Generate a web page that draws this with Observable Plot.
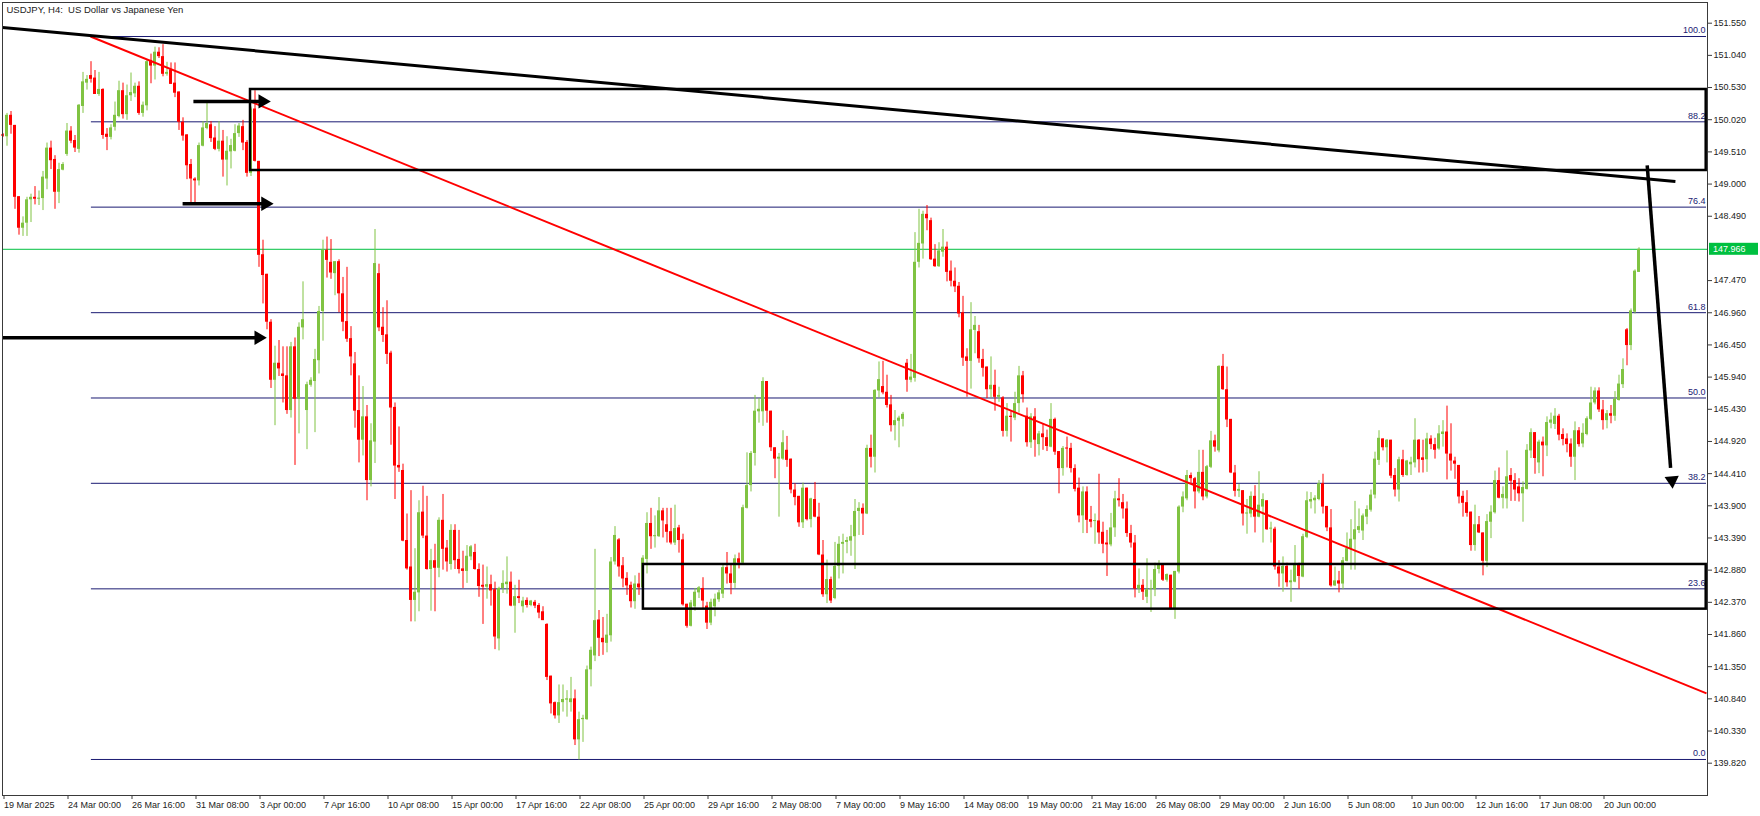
<!DOCTYPE html>
<html><head><meta charset="utf-8">
<script src="https://cdn.jsdelivr.net/npm/d3@7"></script>
<script src="https://cdn.jsdelivr.net/npm/@observablehq/plot@0.6"></script>
<style>html,body{margin:0;padding:0;background:#fff;overflow:hidden}svg{display:block}</style>
</head><body><div id="chart"></div>
<script>
const title = "USDJPY, H4:  US Dollar vs Japanese Yen";
const opens = [
149.78,149.75,150.09,149.93,148.80,148.30,148.38,148.75,148.79,148.76,
148.77,149.08,149.57,149.39,148.87,149.22,149.47,149.84,149.69,149.55,
150.23,150.60,150.72,150.68,150.42,150.50,149.79,149.74,149.90,150.07,
150.48,150.10,150.40,150.43,150.55,150.12,150.24,150.96,150.87,151.09,
151.02,150.74,150.81,150.60,150.46,149.98,149.78,149.31,149.08,149.05,
149.60,149.88,149.94,149.73,149.55,149.68,149.38,149.51,149.52,149.80,
149.91,149.66,149.17,150.19,149.36,147.88,147.57,146.81,145.89,146.16,
145.99,145.96,145.41,146.42,145.59,146.72,145.41,145.81,145.87,146.20,
146.98,147.95,147.76,147.58,147.77,147.26,146.82,146.55,146.15,145.41,
144.94,145.31,144.30,144.91,147.58,146.73,146.61,146.32,145.46,144.54,
144.46,143.35,142.93,142.40,142.52,143.80,143.42,142.89,143.03,142.91,
143.67,143.23,142.97,143.51,143.05,142.90,142.86,143.09,143.16,142.89,
142.64,142.61,142.65,142.57,141.79,142.59,142.65,142.69,142.31,142.46,
142.30,142.40,142.32,142.37,142.32,142.22,142.02,141.20,140.78,140.57,
140.78,140.82,140.78,140.84,140.19,140.51,140.51,141.30,141.52,142.09,
141.80,141.72,141.84,143.01,143.36,142.95,142.75,142.64,142.38,142.66,
142.60,143.05,143.62,143.41,143.41,143.82,143.60,143.49,143.31,143.55,
143.36,142.34,141.99,142.30,142.52,142.59,142.31,142.04,142.30,142.41,
142.50,142.92,142.82,142.67,143.06,142.99,143.86,144.22,144.73,145.39,
145.39,145.87,145.40,144.82,144.64,144.64,144.78,144.64,144.15,144.05,
143.63,144.18,143.68,144.00,143.72,143.12,142.49,142.73,142.43,142.94,
143.29,143.32,143.34,143.41,143.81,143.86,143.77,144.81,144.67,145.72,
145.79,145.70,145.50,145.17,145.24,145.27,146.16,145.89,145.92,147.76,
148.05,148.52,148.42,147.81,147.69,147.92,148.00,147.62,147.46,147.38,
146.96,146.26,146.19,146.68,146.66,146.22,146.10,145.74,145.81,145.62,
145.61,145.08,145.32,145.29,145.52,145.96,145.32,144.90,145.31,144.87,
145.04,144.98,144.83,145.27,144.76,144.49,144.81,144.81,144.49,144.18,
143.74,144.12,143.68,143.65,143.66,143.48,143.31,143.28,143.55,144.01,
143.95,143.85,143.46,143.31,142.58,142.64,142.45,142.57,142.57,142.89,
142.97,142.72,142.80,142.27,142.85,143.88,144.01,144.38,144.33,144.12,
144.43,144.04,144.51,144.93,144.77,146.11,145.74,145.27,144.42,144.13,
144.14,143.77,143.77,144.05,143.72,143.88,143.98,143.53,143.53,142.93,
142.82,142.94,142.68,142.69,142.97,142.77,143.40,143.96,143.98,144.00,
144.25,143.89,143.55,142.63,142.71,142.66,143.02,143.21,143.36,143.51,
143.50,143.72,143.83,144.07,144.62,144.96,144.82,144.94,144.38,144.15,
144.63,144.38,144.55,144.58,144.94,144.66,144.63,144.96,144.87,144.80,
145.03,145.07,144.72,144.61,144.54,144.05,143.95,143.80,143.27,143.60,
143.47,143.02,143.64,143.79,144.30,144.02,144.01,144.38,144.30,144.20,
144.09,144.16,144.77,145.06,144.58,144.91,144.85,145.21,145.19,145.32,
145.03,144.96,144.88,144.67,145.09,144.88,145.03,145.27,145.53,145.72,
145.42,145.25,145.36,145.32,145.57,145.82,146.69,146.44,146.97,147.60];
const highs = [
149.80,150.12,150.15,149.93,148.80,148.48,148.79,148.84,148.96,148.89,
149.20,149.65,149.68,149.45,149.33,149.34,149.96,149.91,149.77,150.26,
150.77,150.72,150.94,150.80,150.77,150.51,149.88,149.94,150.30,150.63,
150.60,150.57,150.76,150.60,150.62,150.30,150.96,151.06,151.17,151.16,
151.21,150.93,150.92,150.92,150.46,150.05,149.78,149.39,149.10,149.65,
149.99,150.30,149.99,149.91,149.99,149.85,149.75,149.71,149.94,149.96,
150.01,149.69,150.22,150.48,149.36,148.11,147.57,146.85,146.43,146.52,
146.42,146.42,146.49,146.56,146.80,147.45,145.86,145.93,146.38,147.06,
148.11,148.16,148.12,147.77,147.80,147.52,147.68,146.74,146.33,145.96,
145.79,145.49,145.20,148.28,147.73,147.04,147.15,146.35,145.53,145.15,
144.56,143.77,144.14,143.22,143.98,144.21,144.05,143.21,143.29,143.71,
144.08,143.35,143.60,143.60,143.51,143.18,143.27,143.27,143.29,142.98,
142.96,142.93,142.80,142.69,142.61,142.87,143.09,142.85,142.64,142.72,
142.45,142.44,142.40,142.40,142.35,142.30,142.03,141.20,140.79,141.06,
141.06,140.97,141.18,140.98,140.63,140.58,141.36,141.66,143.21,142.24,
142.13,142.18,143.08,143.57,143.38,143.08,142.84,142.69,142.79,142.83,
143.11,143.79,143.86,143.74,144.03,143.86,143.86,143.86,143.91,143.59,
143.45,142.34,142.40,142.59,142.62,142.76,142.37,142.42,142.50,142.56,
142.96,143.16,142.96,143.12,143.15,143.91,144.74,144.76,145.65,145.60,
145.93,145.87,145.40,144.82,144.73,145.09,145.00,144.64,144.25,144.05,
144.26,144.18,144.02,144.27,143.94,143.35,143.04,142.77,143.32,143.41,
143.45,143.40,143.59,144.00,143.95,143.93,144.86,145.02,145.74,146.18,
146.19,145.97,145.65,145.41,145.32,145.38,146.22,146.30,148.23,148.60,
148.57,148.66,148.46,148.04,148.07,148.28,148.08,147.78,147.67,147.44,
147.22,146.39,147.12,146.90,146.76,146.38,146.10,146.26,146.05,145.78,
145.63,145.52,145.41,145.70,146.11,146.03,145.45,145.36,145.44,145.08,
145.20,145.10,145.52,145.29,144.76,144.84,144.99,144.89,144.55,144.34,
144.20,144.20,143.89,143.77,144.40,143.64,143.51,143.78,144.13,144.33,
144.08,143.96,143.59,143.43,142.90,142.73,143.06,142.72,142.99,143.03,
142.97,142.82,142.80,142.86,143.90,144.12,144.46,144.42,144.35,144.78,
144.78,144.54,145.08,145.02,146.12,146.30,146.10,145.27,144.54,144.24,
144.14,144.00,144.12,144.22,144.44,144.09,143.98,143.64,143.56,143.03,
143.09,142.99,142.88,143.27,142.99,143.45,144.12,144.11,144.06,144.30,
144.40,143.89,143.84,142.93,142.86,143.08,143.47,143.68,143.97,143.85,
143.77,143.90,144.15,144.75,145.09,144.96,144.95,144.94,144.49,144.67,
144.78,144.62,144.67,145.28,144.95,144.94,145.05,145.01,144.97,145.17,
145.25,145.48,145.20,144.67,144.54,144.13,144.14,143.80,143.91,143.73,
143.47,143.76,143.90,144.45,144.50,144.20,144.77,144.49,144.41,144.33,
144.28,144.87,145.12,145.06,144.94,144.99,145.31,145.37,145.44,145.35,
145.12,145.04,144.96,145.23,145.14,145.20,145.31,145.78,145.77,145.77,
145.57,145.41,145.49,145.71,145.97,146.23,146.71,147.02,147.64,147.99];
const lows = [
149.74,149.60,149.79,148.60,148.19,148.17,148.17,148.39,148.67,148.66,
148.58,148.91,149.23,148.60,148.69,149.21,149.44,149.64,149.50,149.49,
150.12,150.49,150.60,150.42,150.39,149.71,149.53,149.70,149.84,150.05,
150.03,150.01,150.31,150.37,150.09,150.06,150.16,150.59,150.65,150.99,
150.70,150.71,150.58,150.37,149.85,149.68,149.07,148.69,148.69,148.97,
149.59,149.86,149.66,149.53,149.51,149.11,148.97,149.24,149.51,149.74,
149.53,149.11,149.12,149.35,147.68,147.10,146.69,145.76,145.17,145.95,
145.53,145.35,145.29,144.54,145.04,146.53,144.79,145.78,145.06,145.99,
146.51,147.51,147.49,147.23,146.96,146.66,146.49,145.96,145.13,144.58,
144.69,143.98,144.20,144.57,146.66,146.49,146.14,144.86,144.00,144.43,
143.33,142.88,142.06,142.06,142.22,143.38,142.88,142.23,142.22,142.76,
142.88,142.85,142.88,142.89,142.82,142.59,142.67,143.03,142.88,142.45,
142.02,142.42,142.31,141.62,141.60,142.51,142.50,142.30,141.88,142.35,
142.20,142.28,142.30,142.27,142.11,142.08,141.13,140.60,140.52,140.45,
140.63,140.55,140.63,140.10,139.87,140.15,140.50,141.03,141.43,141.51,
141.53,141.57,141.74,142.96,142.77,142.60,142.48,142.28,142.26,142.48,
142.49,142.82,143.21,143.23,143.40,143.39,143.31,143.28,143.27,143.15,
142.31,141.96,141.98,142.23,142.43,142.27,141.94,142.00,142.14,142.37,
142.43,142.66,142.49,142.59,142.90,142.96,143.85,144.12,144.53,145.21,
145.16,145.21,144.76,144.33,143.72,144.62,144.51,144.09,143.90,143.56,
143.54,143.66,143.55,143.71,143.11,142.45,142.35,142.35,142.41,142.74,
142.82,143.14,143.10,142.89,143.43,143.43,143.76,144.50,144.42,145.61,
145.66,145.45,145.07,144.93,144.82,145.15,145.70,145.85,145.86,147.67,
147.81,148.26,147.79,147.68,147.68,147.84,147.45,147.37,147.28,146.88,
146.11,145.62,145.75,146.31,146.16,145.94,145.60,145.61,145.40,145.54,
144.99,144.99,144.91,145.25,145.37,145.53,144.83,144.81,144.67,144.69,
144.78,144.76,144.82,144.70,144.09,144.37,144.50,144.42,144.12,143.63,
143.46,143.46,143.55,143.29,143.29,143.14,142.78,143.25,143.40,143.88,
143.69,143.40,143.23,142.44,142.51,142.40,142.35,142.21,142.46,142.82,
142.70,142.69,142.25,142.10,142.82,143.79,143.98,144.25,143.85,144.09,
143.98,144.01,144.49,144.75,144.74,145.73,145.14,144.41,144.04,144.03,
143.58,143.45,143.71,143.47,143.71,143.31,143.51,143.31,142.88,142.61,
142.53,142.61,142.37,142.68,142.58,142.76,143.38,143.85,143.77,143.98,
143.77,143.49,142.61,142.62,142.52,142.57,143.01,142.88,142.88,143.46,
143.35,143.60,143.80,144.01,144.54,144.77,144.58,144.33,144.04,143.96,
144.35,144.37,144.38,144.50,144.42,144.42,144.43,144.79,144.64,144.78,
144.83,144.31,144.45,144.32,143.93,143.72,143.72,143.18,143.18,143.46,
142.79,142.92,143.38,143.77,144.01,143.85,143.85,143.97,143.97,143.96,
143.64,144.15,144.65,144.40,144.41,144.36,144.68,145.12,145.11,144.93,
144.85,144.74,144.51,144.30,144.83,144.82,145.01,145.25,145.50,145.38,
145.10,145.12,145.20,145.24,145.56,145.76,146.12,146.36,146.94,147.60];
const closes = [
149.76,150.09,149.93,148.79,148.30,148.38,148.75,148.79,148.76,148.77,
149.11,149.57,149.37,148.87,149.23,149.31,149.84,149.68,149.57,150.25,
150.62,150.66,150.66,150.42,150.50,149.77,149.74,149.89,150.09,150.48,
150.10,150.40,150.45,150.55,150.12,150.25,150.94,150.87,151.09,151.02,
150.74,150.77,150.58,150.44,149.98,149.76,149.29,149.08,149.05,149.61,
149.89,149.96,149.72,149.55,149.68,149.38,149.52,149.61,149.80,149.92,
149.65,149.17,150.19,149.36,147.87,147.55,146.81,145.89,146.16,146.07,
145.95,145.41,146.42,145.59,146.73,146.85,145.82,145.89,146.22,146.98,
147.95,147.79,147.59,147.77,147.26,146.81,146.54,146.26,145.40,144.94,
145.31,144.30,144.93,147.74,146.72,146.60,146.30,145.45,144.53,144.50,
143.34,142.90,142.40,142.53,143.79,143.42,142.89,143.03,142.91,143.67,
143.21,143.01,143.51,143.03,142.89,142.86,143.10,143.25,142.89,142.62,
142.61,142.65,142.55,141.82,142.59,142.67,142.69,142.31,142.46,142.43,
142.39,142.32,142.39,142.31,142.20,142.08,141.18,140.76,140.57,140.78,
140.83,140.84,140.84,140.19,140.51,140.53,141.30,141.61,142.08,141.80,
141.73,141.85,143.01,143.43,142.93,142.74,142.63,142.38,142.66,142.60,
143.07,143.62,143.41,143.41,143.82,143.66,143.48,143.31,143.54,143.35,
142.33,141.99,142.36,142.53,142.60,142.39,142.04,142.37,142.42,142.52,
142.92,142.82,142.67,143.06,142.99,143.87,144.22,144.73,145.40,145.43,
145.87,145.40,144.82,144.64,144.67,144.90,144.62,144.15,144.03,143.63,
144.18,143.68,144.01,143.72,143.12,142.49,142.73,142.39,142.94,143.29,
143.32,143.35,143.41,143.81,143.86,143.77,144.81,144.67,145.73,145.90,
145.69,145.49,145.17,145.25,145.29,145.35,145.89,145.94,147.76,148.06,
148.52,148.45,147.80,147.69,147.94,148.00,147.60,147.46,147.37,146.94,
146.24,146.19,146.69,146.76,146.23,146.08,145.74,145.81,145.62,145.65,
145.08,145.32,145.30,145.52,145.96,145.66,144.90,145.31,144.94,145.04,
144.98,144.84,145.27,144.75,144.49,144.81,144.80,144.49,144.16,143.74,
144.12,143.67,143.64,143.66,143.47,143.29,143.28,143.55,144.01,143.98,
143.85,143.46,143.31,142.58,142.64,142.53,142.57,142.57,142.89,142.97,
142.72,142.81,142.27,142.86,143.88,144.04,144.38,144.33,144.12,144.43,
144.04,144.52,144.93,144.83,146.11,145.74,145.26,144.42,144.13,144.16,
143.77,143.78,144.05,143.72,143.91,144.00,143.52,143.53,142.93,142.82,
142.94,142.68,142.71,142.97,142.78,143.41,143.98,144.00,144.02,144.25,
143.88,143.55,142.63,142.71,142.66,143.03,143.22,143.37,143.52,143.57,
143.74,143.84,144.07,144.64,144.97,144.82,144.94,144.37,144.15,144.63,
144.38,144.61,144.59,144.94,144.63,144.62,144.96,144.87,144.78,145.04,
145.07,144.72,144.61,144.56,144.04,143.94,143.78,143.27,143.60,143.47,
143.02,143.65,143.80,144.30,144.02,144.08,144.36,144.29,144.15,144.09,
144.19,144.78,145.06,144.65,144.91,144.85,145.22,145.26,145.32,145.02,
144.95,144.87,144.67,145.09,144.87,145.05,145.28,145.53,145.72,145.42,
145.25,145.36,145.32,145.59,145.83,146.06,146.44,146.99,147.62,147.966];

const xTickBars = [0,16,32,48,64,80,96,112,128,144,160,176,192,208,224,240,256,272,288,304,320,336,352,368,384,400];
const xTickLabels = ["19 Mar 2025","24 Mar 00:00","26 Mar 16:00","31 Mar 08:00","3 Apr 00:00","7 Apr 16:00","10 Apr 08:00","15 Apr 00:00","17 Apr 16:00","22 Apr 08:00","25 Apr 00:00","29 Apr 16:00","2 May 08:00","7 May 00:00","9 May 16:00","14 May 08:00","19 May 00:00","21 May 16:00","26 May 08:00","29 May 00:00","2 Jun 16:00","5 Jun 08:00","10 Jun 00:00","12 Jun 16:00","17 Jun 08:00","20 Jun 00:00"];
const yTickLabels = ["139.820","140.330","140.840","141.350","141.860","142.370","142.880","143.390","143.900","144.410","144.920","145.430","145.940","146.450","146.960","147.470","148.490","149.000","149.510","150.020","150.530","151.040","151.550"];

const fibLow = 139.879, fibHigh = 151.339, fibStartBar = 22.1;
const fibLevels = [0, 23.6, 38.2, 50, 61.8, 76.4, 88.2, 100];
const fibLabels = ["0.0","23.6","38.2","50.0","61.8","76.4","88.2","100.0"];
const lastPrice = 147.966;
const lastPriceLabel = "147.966";
const rightBar = 425.875;

const trendBlack = [{x1:-0.125, y1:151.482, x2:418.1, y2:149.041}];
const trendRed = [{x1:21.875, y1:151.339, x2:425.875, y2:140.926}];
const boxes = [
  {x1:61.875, x2:425.8, top:150.499, bottom:149.215},
  {x1:160.1, x2:425.8, top:142.970, bottom:142.262}
];
const hArrows = [
  {x1:47.6, tip:66.9, y:150.309},
  {x1:44.9, tip:67.6, y:148.688},
  {x1:-0.125, tip:65.9, y:146.564}
];
const dArrows = [{x1:411.05, y1:149.295, tipX:417.4, tipY:144.175, shaftX:416.9, shaftY:144.5}];

const UP = "#80c342", DOWN = "#ff0000", NAVY = "#1a1a72", PRICE_GREEN = "#00c040";

const bars = closes.map((c, i) => ({i, o: opens[i], h: highs[i], l: lows[i], c, up: c >= opens[i]}));
const fib = fibLevels.map((lv, k) => ({price: fibLow + lv / 100 * (fibHigh - fibLow), label: fibLabels[k]}));
const yTicks = yTickLabels.map(Number);

const chart = Plot.plot({
  width: 1760, height: 816,
  marginLeft: 2, marginRight: 53, marginTop: 2, marginBottom: 21,
  x: {type: "linear", domain: [-0.125, 426.125]},
  y: {type: "linear", domain: [139.308, 151.878]},
  style: {fontFamily: "'Liberation Sans', Arial, sans-serif", fontSize: "9px", color: "#222", background: "#fff"},
  marks: [
    Plot.ruleY(fib, {y: "price", x1: fibStartBar, x2: rightBar, stroke: NAVY, strokeWidth: 1}),
    Plot.text(fib, {y: "price", text: "label", frameAnchor: "right", textAnchor: "end", dx: -2, dy: -6, fill: NAVY, fontSize: 9}),
    Plot.ruleY([lastPrice], {stroke: PRICE_GREEN, strokeWidth: 1}),
    Plot.ruleX(bars, {x: "i", y1: "l", y2: "h", stroke: d => d.up ? UP : DOWN, strokeWidth: 1}),
    Plot.rect(bars, {
      x1: d => d.i - 0.375, x2: d => d.i + 0.375,
      y1: d => Math.min(d.o, d.c),
      y2: d => Math.max(d.o, d.c, Math.min(d.o, d.c) + 0.016),
      fill: d => d.up ? UP : DOWN
    }),
    Plot.link(trendRed, {x1: "x1", y1: "y1", x2: "x2", y2: "y2", stroke: DOWN, strokeWidth: 2}),
    Plot.link(trendBlack, {x1: "x1", y1: "y1", x2: "x2", y2: "y2", stroke: "#000", strokeWidth: 3}),
    Plot.rect(boxes, {x1: "x1", x2: "x2", y1: "bottom", y2: "top", fill: "none", stroke: "#000", strokeWidth: 2.5}),
    Plot.link(hArrows, {x1: "x1", x2: d => d.tip - 1.8, y1: "y", y2: "y", stroke: "#000", strokeWidth: 3.5}),
    Plot.dot(hArrows, {x: "tip", y: "y", symbol: "triangle", r: 5.3, rotate: 90, dx: -8, fill: "#000", stroke: "none"}),
    Plot.link(dArrows, {x1: "x1", y1: "y1", x2: "shaftX", y2: "shaftY", stroke: "#000", strokeWidth: 3.5}),
    Plot.dot(dArrows, {x: "tipX", y: "tipY", symbol: "triangle", r: 5.3, rotate: 175.5, dx: -0.6, dy: -8, fill: "#000", stroke: "none"}),
    Plot.frame({stroke: "#3a3a3a"}),
    Plot.axisY({anchor: "right", ticks: yTicks, tickFormat: d => yTickLabels[yTicks.indexOf(d)], tickSize: 4, tickPadding: 2, fontSize: 9, stroke: "#3a3a3a", fill: "#222"}),
    Plot.axisX({anchor: "bottom", ticks: xTickBars, tickFormat: d => xTickLabels[xTickBars.indexOf(d)], tickSize: 4, tickPadding: 2, textAnchor: "start", dx: 1, fontSize: 9, stroke: "#3a3a3a", fill: "#222"}),
    Plot.text([title], {frameAnchor: "top-left", dx: 4, dy: 4, lineAnchor: "top", textAnchor: "start", fontSize: 9.5, fill: "#222"})
  ]
});

// current price tag on the right axis
const ys = chart.scale("y");
const yy = ys.apply(lastPrice);
const svg = d3.select(chart);
svg.append("rect").attr("x", 1709).attr("y", yy - 6).attr("width", 49).attr("height", 12).attr("fill", PRICE_GREEN);
svg.append("text").attr("x", 1713).attr("y", yy + 3.5).attr("fill", "#fff")
  .attr("text-anchor", "start")
  .attr("font-size", 9).attr("font-family", "'Liberation Sans', Arial, sans-serif").text(lastPriceLabel);

document.getElementById("chart").appendChild(chart);
</script>
</body></html>
